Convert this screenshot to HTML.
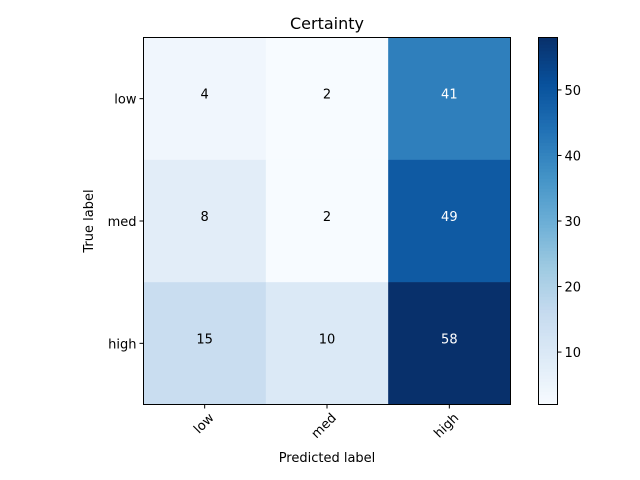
<!DOCTYPE html>
<html><head><meta charset="utf-8"><style>
html,body{margin:0;padding:0;background:#fff;}
svg{display:block;font-family:"DejaVu Sans","Liberation Sans",sans-serif;}
</style></head><body>
<svg id="chart" width="640" height="480" viewBox="0 0 640 480" xmlns="http://www.w3.org/2000/svg">
<text x="327" y="29" font-size="16" text-anchor="middle" fill="#000">Certainty</text>
<g id="cells"></g>
<g id="axes"></g>
<g id="cbar"></g>
</svg>
<script>
const categories = ["low","med","high"];
const rowLabels = ["low","med","high"];
const values = [[4,2,41],[8,2,49],[15,10,58]];
const cbarTicks = [10,20,30,40,50];
const vmin = 2, vmax = 58;

const NS="http://www.w3.org/2000/svg";
const L=143.5,R=510.5,T=37.5,B=404.5;
const n=categories.length;
const cw=(R-L)/n, ch=(B-T)/n;
const xc=i=>L+cw*(i+0.5), yc=j=>T+ch*(j+0.5);
const stops=[[0,"#f7fbff"],[0.125,"#deebf7"],[0.25,"#c6dbef"],[0.375,"#9ecae1"],[0.5,"#6baed6"],[0.625,"#4292c6"],[0.75,"#2171b5"],[0.875,"#08519c"],[1,"#08306b"]];
function hex(h){return [1,3,5].map(k=>parseInt(h.substr(k,2),16));}
function cmap(v){let t=Math.max(0,Math.min(1,(v-vmin)/(vmax-vmin)));
 for(let k=0;k<stops.length-1;k++){const [a,ca]=stops[k],[b,cb]=stops[k+1];
  if(t<=b){const f=(t-a)/(b-a),A=hex(ca),Bc=hex(cb);return "rgb("+A.map((x,i)=>Math.round(x+(Bc[i]-x)*f)).join(",")+")";}}
 return stops[stops.length-1][1];}
function mk(tag,attrs,parent,txt){const e=document.createElementNS(NS,tag);for(const k in attrs)e.setAttribute(k,attrs[k]);if(txt!==undefined)e.textContent=txt;parent.appendChild(e);return e;}
const cells=document.getElementById("cells");
const thresh=vmax/2;
values.forEach((row,j)=>row.forEach((v,i)=>{
 const r=mk("rect",{x:L+cw*i,y:T+ch*j,width:cw+0.3,height:ch+0.3,fill:cmap(v)},cells);
 
 
 const t=mk("text",{x:xc(i),y:yc(j),"font-size":"13","text-anchor":"middle",fill:v>thresh?"#fff":"#000"},cells,String(v));
 
 
}));
const ax=document.getElementById("axes");
const frame=mk("rect",{x:L,y:T,width:R-L,height:B-T,fill:"none",stroke:"#000","stroke-width":1},ax);


categories.forEach((c,i)=>{
 mk("line",{x1:xc(i),x2:xc(i),y1:B,y2:B+4,stroke:"#000"},ax);
 const x=xc(i)+10,y=B+14;
 const t=mk("text",{x:x,y:y,"font-size":"13","text-anchor":"end",transform:"rotate(-45 "+x+" "+y+")"},ax,c);
 
 
});
rowLabels.forEach((c,j)=>{
 mk("line",{x1:L-4,x2:L,y1:yc(j),y2:yc(j),stroke:"#000"},ax);
 const t=mk("text",{x:L-7,y:yc(j)+5,"font-size":"13","text-anchor":"end"},ax,c);
 
 
});
const xt=mk("text",{x:(L+R)/2,y:462,"font-size":"13","text-anchor":"middle"},ax,"Predicted label");


const yt=mk("text",{x:93,y:(T+B)/2,"font-size":"13","text-anchor":"middle",transform:"rotate(-90 93 "+(T+B)/2+")"},ax,"True label");


const cb=document.getElementById("cbar");
const cL=538.5,cR=557.5;
const cy=v=>B-(v-vmin)/(vmax-vmin)*(B-T);
const N=112;
for(let k=0;k<N;k++){const v0=vmin+(vmax-vmin)*k/N,v1=vmin+(vmax-vmin)*(k+1)/N;
 mk("rect",{x:cL,y:cy(v1),width:cR-cL,height:cy(v0)-cy(v1)+0.5,fill:cmap((v0+v1)/2)},cb);}
const cf=mk("rect",{x:cL,y:T,width:cR-cL,height:B-T,fill:"none",stroke:"#000"},cb);


cbarTicks.forEach(v=>{
 mk("line",{x1:cR,x2:cR+4,y1:cy(v),y2:cy(v),stroke:"#000"},cb);
 const t=mk("text",{x:cR+7,y:cy(v)+5,"font-size":"13"},cb,String(v));
 
 
});
</script>
</body></html>
